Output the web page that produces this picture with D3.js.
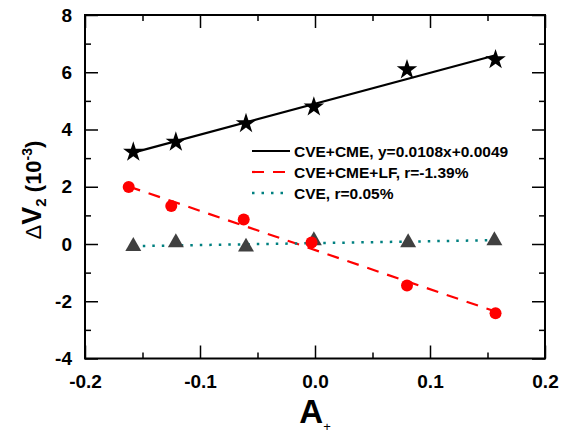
<!DOCTYPE html>
<html><head><meta charset="utf-8">
<script src="https://cdn.jsdelivr.net/npm/d3@7"></script>
<style>body{margin:0;background:#fff}svg{display:block;font-family:"Liberation Sans",Arial,sans-serif}</style>
</head><body><svg id="c" width="564" height="436"></svg>
<script>
const xStar = [-0.158, -0.121, -0.060, -0.001, 0.080, 0.157];
const yStar = [3.21, 3.56, 4.21, 4.79, 6.09, 6.44];
const xCirc = [-0.162, -0.125, -0.062, -0.003, 0.080, 0.157];
const yCirc = [1.99, 1.33, 0.86, 0.05, -1.45, -2.42];
const xTri = [-0.158, -0.121, -0.060, -0.001, 0.081, 0.156];
const yTri = [-0.08, 0.05, -0.10, 0.12, 0.05, 0.12];
// fit lines: [slope, intercept] in units of 10^-3
const fitCME = [10.8, 4.9];
const fitLF = [-13.7, -0.21];
const fitCVE = [0.67, 0.03];
const xTicks = [-0.2, -0.1, 0.0, 0.1, 0.2];
const yTicks = [-4, -2, 0, 2, 4, 6, 8];
const xTickLabels = ["-0.2", "-0.1", "0.0", "0.1", "0.2"];
const yTickLabels = ["-4", "-2", "0", "2", "4", "6", "8"];
const legendLabels = ["CVE+CME, y=0.0108x+0.0049", "CVE+CME+LF, r=-1.39%", "CVE, r=0.05%"];

const svg = d3.select("#c");
const L = 85, R = 545, T = 15, B = 358.5;
const x = d3.scaleLinear().domain([-0.2, 0.2]).range([L, R]);
const y = d3.scaleLinear().domain([-4, 8]).range([B, T]);

function axisTicks(axisFn, scale, transform, major, minor) {
  const a = svg.append("g").attr("transform", transform);
  a.call(axisFn(scale).tickValues(minor).tickSize(-6).tickFormat(""));
  const b = svg.append("g").attr("transform", transform);
  b.call(axisFn(scale).tickValues(major).tickSize(-13).tickFormat(""));
  [a, b].forEach(s => { s.select(".domain").remove(); s.selectAll("line").attr("stroke", "#000").attr("stroke-width", 1.5); });
}
const xMinor = [-0.15, -0.05, 0.05, 0.15];
const yMinor = [-3, -1, 1, 3, 5, 7];
axisTicks(d3.axisBottom, x, `translate(0,${B})`, xTicks, xMinor);
axisTicks(d3.axisTop, x, `translate(0,${T})`, xTicks, xMinor);
axisTicks(d3.axisLeft, y, `translate(${L},0)`, yTicks, yMinor);
axisTicks(d3.axisRight, y, `translate(${R},0)`, yTicks, yMinor);
svg.append("rect").attr("x", L).attr("y", T).attr("width", R - L).attr("height", B - T)
  .attr("fill", "none").attr("stroke", "#000").attr("stroke-width", 2);

// tick labels
const xl = svg.append("g").attr("transform", `translate(0,${B})`)
  .call(d3.axisBottom(x).tickValues(xTicks).tickSize(0).tickPadding(16).tickFormat((d, i) => xTickLabels[i]));
xl.select(".domain").remove();
xl.selectAll("text").attr("font-size", 19).attr("font-weight", "bold").attr("fill", "#000").attr("font-family", "Liberation Sans, Arial, sans-serif");
const yl = svg.append("g").attr("transform", `translate(${L},0)`)
  .call(d3.axisLeft(y).tickValues(yTicks).tickSize(0).tickPadding(13).tickFormat((d, i) => yTickLabels[i]));
yl.select(".domain").remove();
yl.selectAll("text").attr("font-size", 19).attr("font-weight", "bold").attr("fill", "#000").attr("font-family", "Liberation Sans, Arial, sans-serif");

// axis titles
const xt = svg.append("text").attr("x", 315).attr("y", 423).attr("text-anchor", "middle")
  .attr("font-weight", "bold").attr("fill", "#000");
xt.append("tspan").attr("font-size", 33).text("A");
xt.append("tspan").attr("font-size", 13).attr("dy", 8).attr("font-weight", "normal").text("+");

const yt = svg.append("text").attr("transform", "translate(41,190) rotate(-90)").attr("text-anchor", "middle")
  .attr("font-weight", "bold").attr("fill", "#000");
yt.append("tspan").attr("font-size", 22).attr("font-weight", "normal").text("Δ");
yt.append("tspan").attr("font-size", 27).text("V");
yt.append("tspan").attr("font-size", 15).attr("dy", 5).text("2");
yt.append("tspan").attr("font-size", 22).attr("dy", -5).text(" (10");
yt.append("tspan").attr("font-size", 14).attr("dy", -9).text("-3");
yt.append("tspan").attr("font-size", 22).attr("dy", 9).text(")");

// fit lines
function fitLine(fit, xs, color, dash, width) {
  const x0 = d3.min(xs), x1 = d3.max(xs);
  svg.append("line").attr("x1", x(x0)).attr("y1", y(fit[0] * x0 + fit[1]))
    .attr("x2", x(x1)).attr("y2", y(fit[0] * x1 + fit[1]))
    .attr("stroke", color).attr("stroke-width", width).attr("stroke-dasharray", dash);
}
fitLine(fitCME, xStar, "#000", null, 2.2);
fitLine(fitLF, xCirc, "#ff0000", "12,9", 2.2);
fitLine(fitCVE, xTri, "#008080", "2.5,7", 2.5);

// markers
svg.append("g").selectAll("path").data(xTri).join("path")
  .attr("transform", (d, i) => `translate(${x(d)},${y(yTri[i])})`)
  .attr("d", d3.symbol(d3.symbolTriangle, 110)).attr("fill", "#404040");
svg.append("g").selectAll("circle").data(xCirc).join("circle")
  .attr("cx", d => x(d)).attr("cy", (d, i) => y(yCirc[i])).attr("r", 6).attr("fill", "#ff0000");
svg.append("g").selectAll("path").data(xStar).join("path")
  .attr("transform", (d, i) => `translate(${x(d)},${y(yStar[i])})`)
  .attr("d", d3.symbol(d3.symbolStar, 130)).attr("fill", "#000");

// legend
const legStyles = [["#000", null, 2.2], ["#ff0000", "12,9", 2.2], ["#008080", "2.5,7", 2.5]];
const lg = svg.append("g");
legendLabels.forEach((t, i) => {
  const yy = 151 + i * 21;
  const s = legStyles[i];
  lg.append("line").attr("x1", 252).attr("x2", 290).attr("y1", yy).attr("y2", yy)
    .attr("stroke", s[0]).attr("stroke-dasharray", s[1]).attr("stroke-width", s[2]);
  lg.append("text").attr("x", 294).attr("y", yy + 5.5).attr("font-size", 15.5).attr("font-weight", "bold")
    .attr("fill", "#000").text(t);
});
</script></body></html>
